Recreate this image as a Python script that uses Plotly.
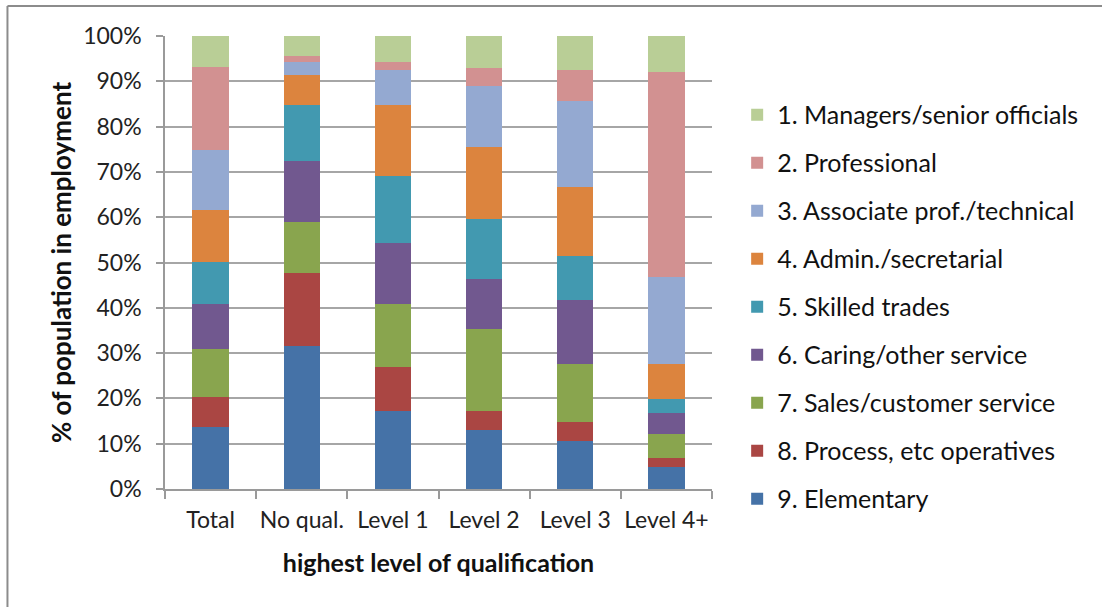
import plotly.graph_objects as go

categories = ["Total", "No qual.", "Level 1", "Level 2", "Level 3", "Level 4+"]

# Occupation share (%) within each qualification level, bottom to top
elementary = [13.6, 31.5, 17.3, 13.1, 10.5, 4.8]
process_ops = [6.6, 16.1, 9.6, 4.2, 4.3, 2.0]
sales = [10.6, 11.3, 13.9, 18.1, 12.7, 5.4]
caring = [10.0, 13.4, 13.4, 11.0, 14.2, 4.5]
skilled = [9.3, 12.4, 15.0, 13.1, 9.7, 3.2]
admin = [11.4, 6.6, 15.5, 16.1, 15.2, 7.8]
associate = [13.3, 3.0, 7.9, 13.4, 19.0, 19.0]
professional = [18.4, 1.2, 1.7, 3.9, 6.8, 45.4]
managers = [6.8, 4.5, 5.7, 7.1, 7.6, 7.9]

series = [
    ("9. Elementary", elementary, "#4572A7"),
    ("8. Process, etc operatives", process_ops, "#AA4643"),
    ("7. Sales/customer service", sales, "#89A54E"),
    ("6. Caring/other service", caring, "#71588F"),
    ("5. Skilled trades", skilled, "#4299B0"),
    ("4. Admin./secretarial", admin, "#DC843E"),
    ("3. Associate prof./technical", associate, "#94A9D1"),
    ("2. Professional", professional, "#D29191"),
    ("1. Managers/senior officials", managers, "#B9CE96"),
]

FONT = "Lato"

fig = go.Figure()
for i, (name, vals, color) in enumerate(series):
    fig.add_trace(go.Bar(
        x=categories, y=vals, name=name,
        marker=dict(color=color, line=dict(width=0)),
        legendgroup=str(i),
        legendrank=len(series) - i,
    ))

fig.update_layout(
    barmode="stack",
    barnorm="percent",
    bargap=0.6,
    width=1102, height=607,
    margin=dict(l=165, r=390, t=36, b=118),
    paper_bgcolor="white", plot_bgcolor="white",
    font=dict(family=FONT, size=24, color="#222222"),
    legend=dict(
        x=1.046, xanchor="left", y=0.402, yanchor="middle",
        traceorder="grouped", tracegroupgap=12.5,
        font=dict(family=FONT, size=25, color="#111111"),
        itemwidth=30,
    ),
    xaxis=dict(
        automargin=False, tickangle=0,
        showline=True, linecolor="#9a9a9a", linewidth=1.5,
        ticks="outside", tickson="boundaries", ticklen=8, tickcolor="#9a9a9a", tickwidth=1.5,
        ticklabelstandoff=10,
        tickfont=dict(family=FONT, size=23, color="#222222"),
        title=dict(text="<b>highest level of qualification</b>", standoff=22,
                   font=dict(family=FONT, size=25, color="#111111")),
    ),
    yaxis=dict(
        automargin=False,
        range=[0, 100], dtick=10, ticksuffix="%",
        showline=True, linecolor="#9a9a9a", linewidth=1.5,
        ticks="outside", ticklen=7, tickcolor="#9a9a9a", tickwidth=1.5,
        ticklabelstandoff=10,
        showgrid=True, gridcolor="#a6a6a6", gridwidth=1.5,
        tickfont=dict(family=FONT, size=23, color="#222222"),
        title=dict(text="<b>% of population in employment</b>", standoff=4,
                   font=dict(family=FONT, size=26, color="#111111")),
        zeroline=False,
    ),
    shapes=[
        dict(type="line", xref="paper", yref="paper", x0=-0.288, x1=1.72, y0=1.066, y1=1.066,
             line=dict(color="#8c8c8c", width=2)),
        dict(type="line", xref="paper", yref="paper", x0=-0.288, x1=-0.288, y0=-0.27, y1=1.066,
             line=dict(color="#8c8c8c", width=2)),
    ],
)

fig.write_html("out.html")
